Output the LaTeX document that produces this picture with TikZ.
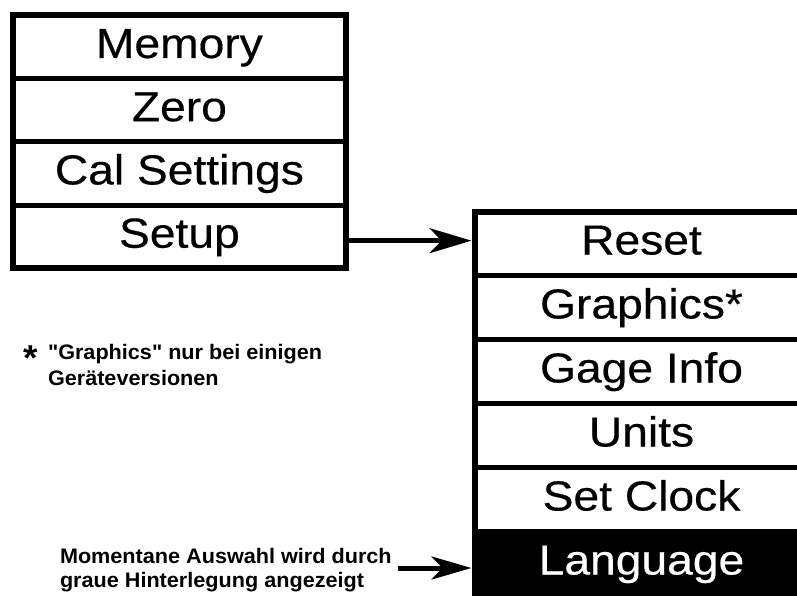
\documentclass[tikz,border=0pt]{standalone}
\usepackage{fontspec}
\setmainfont{Liberation Sans}
\newfontfamily\menufont[FakeStretch=1.1, FakeBold=0.4]{Liberation Sans}
\newfontfamily\notefont[FakeStretch=1.03]{Liberation Sans}
\usetikzlibrary{arrows.meta}
\begin{document}
\begin{tikzpicture}[x=1pt,y=-1pt,
  rowbox/.style={draw=black, line width=5pt, outer sep=0pt, inner sep=0pt,
    minimum width=332.8pt, minimum height=63.25pt, anchor=north,
    font=\menufont\fontsize{42}{42}\selectfont, text height=30pt, text depth=8pt},
  rowboxr/.style={rowbox, minimum width=334pt, minimum height=64pt},
  selected/.style={fill=black, text=white},
  frame/.style={draw=black, line width=6pt},
  arrowline/.style={draw=black, line width=4.5pt,
    -{Stealth[length=42pt, width=25pt, inset=12pt]}, shorten >=3pt},
  notetext/.style={font=\notefont\bfseries\fontsize{21}{26}\selectfont,
    align=left, inner sep=0pt, outer sep=0pt}
]
\clip (0,0) rectangle (797,595);
\fill[white] (0,0) rectangle (797,595);

% left menu
\node[rowbox, anchor=north west] (mem) at (13,15.3) {Memory};
\node[rowbox] (zero) at (mem.south) {Zero};
\node[rowbox] (cal) at (zero.south) {Cal Settings};
\node[rowbox] (setup) at (cal.south) {Setup};
\draw[frame] (mem.north west) rectangle (setup.south east);

% right menu
\node[rowboxr, anchor=north west] (reset) at (474.5,211.5) {Reset};
\node[rowboxr] (graph) at (reset.south) {Graphics*};
\node[rowboxr] (gage) at (graph.south) {Gage Info};
\node[rowboxr] (units) at (gage.south) {Units};
\node[rowboxr] (clock) at (units.south) {Set Clock};
\node[rowboxr, selected] (lang) at (clock.south) {Language};
\draw[frame] (reset.north west) rectangle (lang.south east);

% arrow from Setup to submenu
\draw[arrowline] ([yshift=-4pt]setup.east) -- ([yshift=-4pt]setup.east -| reset.west);

% footnote
\node[font=\notefont\bfseries\fontsize{36}{36}\selectfont, inner sep=0pt] (star) at (31,358) {*};
\node[notetext, anchor=base west] (note1) at (48,385) {"Graphics" nur bei einigen\\Geräteversionen};

% selection note
\node[notetext, anchor=base west, font=\notefont\bfseries\fontsize{21}{24}\selectfont] (note2) at (60,587) {Momentane Auswahl wird durch\\graue Hinterlegung angezeigt};
\coordinate (a2) at (398,568);
\draw[arrowline, line width=5pt, -{Stealth[length=40pt, width=23pt, inset=11pt]}] (a2) -- (a2 -| lang.west);
\end{tikzpicture}
\end{document}
